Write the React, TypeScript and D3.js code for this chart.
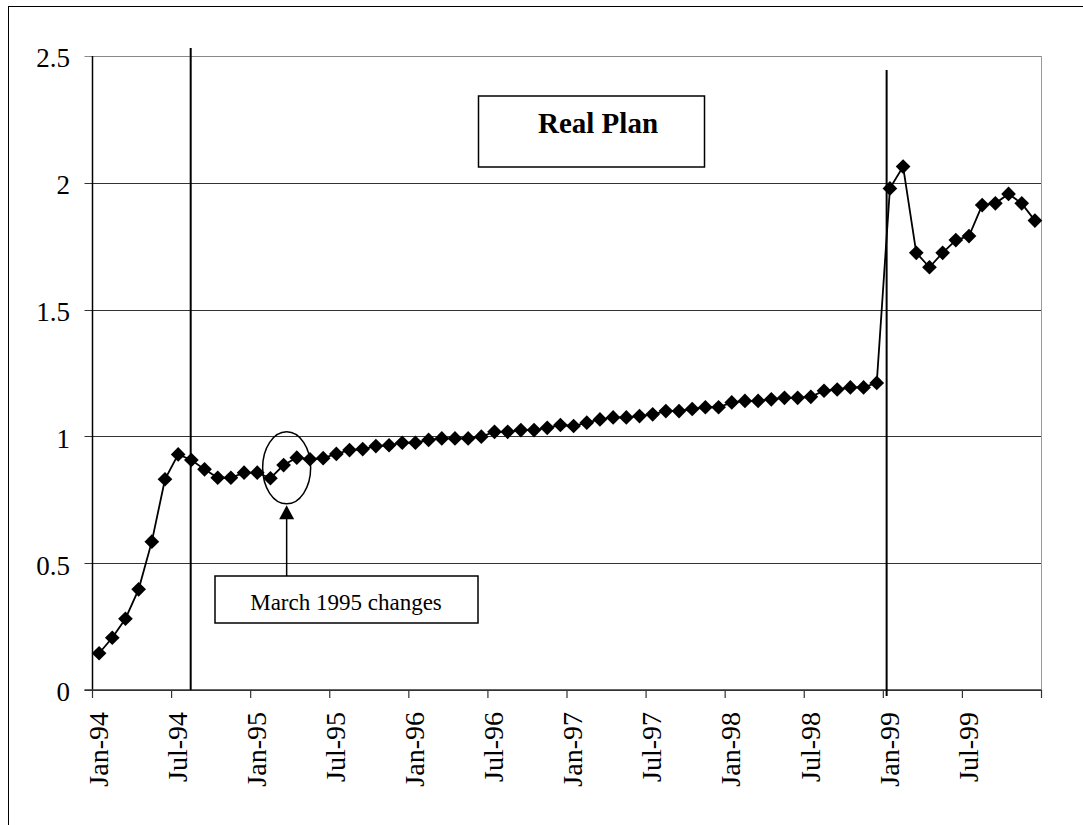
import React from "react";
import * as d3 from "d3";

// Monthly values, Jan-94 .. Dec-99
const years = ["94", "95", "96", "97", "98", "99"];
const monthNames = ["Jan", "Feb", "Mar", "Apr", "May", "Jun", "Jul", "Aug", "Sep", "Oct", "Nov", "Dec"];
const categories = years.flatMap((y) => monthNames.map((m) => `${m}-${y}`));

const values = [
  0.145, 0.206, 0.281, 0.397, 0.585, 0.831, 0.929, 0.907, 0.87, 0.837, 0.837, 0.857,
  0.857, 0.835, 0.887, 0.916, 0.91, 0.914, 0.931, 0.946, 0.95, 0.962, 0.965, 0.975,
  0.975, 0.986, 0.992, 0.992, 0.992, 0.999, 1.018, 1.018, 1.025, 1.025, 1.034, 1.045,
  1.041, 1.054, 1.067, 1.075, 1.075, 1.08, 1.087, 1.1, 1.1, 1.108, 1.115, 1.115,
  1.134, 1.14, 1.14, 1.146, 1.152, 1.152, 1.156, 1.18, 1.185, 1.193, 1.193, 1.211,
  1.978, 2.064, 1.724, 1.667, 1.724, 1.774, 1.79, 1.912, 1.919, 1.956, 1.919, 1.851,
];

const yTicks = [0, 0.5, 1, 1.5, 2, 2.5];
const tickLabels = [
  "Jan-94", "Jul-94", "Jan-95", "Jul-95", "Jan-96", "Jul-96",
  "Jan-97", "Jul-97", "Jan-98", "Jul-98", "Jan-99", "Jul-99",
];

// Event markers, in months since Jan-94
const eventLines = [
  { month: 7.45, top: 48 },
  { month: 60.25, top: 70 },
];
const titleText = "Real Plan";
const noteText = "March 1995 changes";
const noteMonth = 14.73;
const noteValue = 0.876;

const FONT = "Liberation Serif, DejaVu Serif, serif";
const txt = { fontFamily: FONT };

export default function App() {
  const W = 1083;
  const H = 825;
  const left = 92.5;
  const right = 1041.5;
  const top = 56;
  const bottom = 690;

  const x = d3.scaleLinear().domain([0, categories.length]).range([left, right]);
  const y = d3.scaleLinear().domain([0, 2.5]).range([bottom, top]);

  const line = d3
    .line<number>()
    .x((_, i) => x(i + 0.5))
    .y((d) => y(d));

  const diamond = d3.symbol().type(d3.symbolSquare).size(108)() as string;

  const xTickPositions = d3.range(0, categories.length + 1, 6);

  const ex = x(noteMonth);
  const ey = y(noteValue);
  const boxTop = 576;

  return (
    <svg
      width={W}
      height={H}
      style={{ position: "absolute", left: 0, top: 0, background: "#fff" }}
    >
      <rect x={0} y={0} width={W} height={H} fill="#fff" />
      {/* outer frame */}
      <rect x={8.5} y={6.5} width={W + 20} height={H + 20} fill="none" stroke="#000" strokeWidth={1} />

      {/* gridlines */}
      {yTicks.map((t) => (
        <line
          key={"g" + t}
          x1={left - 8}
          x2={right}
          y1={Math.round(y(t)) + 0.5}
          y2={Math.round(y(t)) + 0.5}
          stroke={t === 2.5 ? "#888" : "#333"}
          strokeWidth={1}
        />
      ))}
      {/* plot right border */}
      <line x1={right} x2={right} y1={top} y2={bottom} stroke="#999" strokeWidth={1} />

      {/* y axis */}
      <line x1={left} x2={left} y1={top} y2={bottom} stroke="#000" strokeWidth={1.5} />
      {yTicks.map((t) => (
        <text
          key={"yl" + t}
          x={70}
          y={y(t) + 2}
          dy="0.35em"
          textAnchor="end"
          fontSize={27}
          fill="#000"
          style={txt}
        >
          {t}
        </text>
      ))}

      {/* x axis */}
      <line x1={left - 8} x2={right} y1={bottom} y2={bottom} stroke="#333" strokeWidth={1.5} />
      {xTickPositions.map((m) => (
        <line key={"xt" + m} x1={x(m)} x2={x(m)} y1={bottom} y2={bottom + 8} stroke="#333" strokeWidth={1.2} />
      ))}
      {tickLabels.map((lab, k) => {
        const cx = x(k * 6 + 0.5) - 0.8;
        return (
          <text
            key={lab}
            transform={`translate(${cx},${712}) rotate(-90)`}
            textAnchor="end"
            dominantBaseline="central"
            fontSize={28}
            fill="#000"
            style={txt}
          >
            {lab}
          </text>
        );
      })}

      {/* event lines */}
      {eventLines.map((e, k) => (
        <line
          key={"ev" + k}
          x1={x(e.month)}
          x2={x(e.month)}
          y1={e.top}
          y2={k === 1 ? bottom + 6 : bottom}
          stroke="#000"
          strokeWidth={2}
        />
      ))}

      {/* series */}
      <path d={line(values) || ""} fill="none" stroke="#000" strokeWidth={1.8} />
      {values.map((v, i) => (
        <path
          key={"m" + i}
          d={diamond}
          transform={`translate(${x(i + 0.5)},${y(v)}) rotate(45)`}
          fill="#000"
        />
      ))}

      {/* title box */}
      <rect x={478.5} y={96} width={226} height={71} fill="#fff" stroke="#000" strokeWidth={1.5} />
      <text x={598} y={133} textAnchor="middle" fontSize={29} fontWeight="bold" fill="#000" style={txt}>
        {titleText}
      </text>

      {/* annotation: ellipse, arrow and note */}
      <ellipse cx={ex} cy={ey} rx={24} ry={36} fill="none" stroke="#000" strokeWidth={1.5} />
      <line x1={ex} x2={ex} y1={boxTop} y2={ey + 50} stroke="#000" strokeWidth={1.5} />
      <path
        d={`M${ex},${ey + 37.5} L${ex - 7.5},${ey + 51.5} L${ex + 7.5},${ey + 51.5} Z`}
        fill="#000"
      />
      <rect x={215} y={boxTop} width={263} height={47} fill="#fff" stroke="#000" strokeWidth={1.5} />
      <text x={346} y={610} textAnchor="middle" fontSize={23} fill="#000" style={txt}>
        {noteText}
      </text>
    </svg>
  );
}
